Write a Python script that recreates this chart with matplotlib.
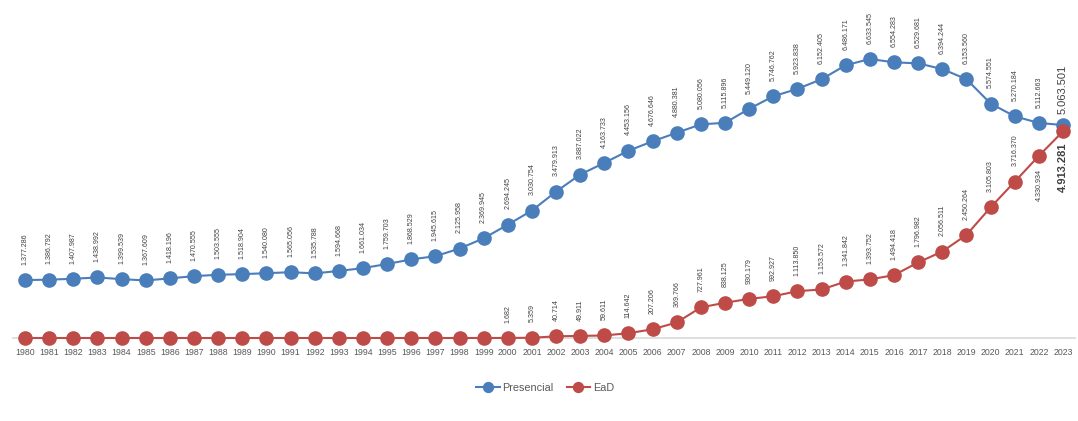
import matplotlib
matplotlib.use("Agg")
import matplotlib.pyplot as plt

plt.rcParams['font.family'] = ['Liberation Sans Narrow', 'Liberation Sans', 'DejaVu Sans']

# dados
anos = list(range(1980, 2024))
presencial = [1377286, 1386792, 1407987, 1438992, 1399539, 1367609, 1418196, 1470555,
              1503555, 1518904, 1540080, 1565056, 1535788, 1594668, 1661034, 1759703,
              1868529, 1945615, 2125958, 2369945, 2694245, 3030754, 3479913, 3887022,
              4163733, 4453156, 4676646, 4880381, 5080056, 5115896, 5449120, 5746762,
              5923838, 6152405, 6486171, 6633545, 6554283, 6529681, 6394244, 6153560,
              5574551, 5270184, 5112663, 5063501]
ead = [0] * 20 + [1682, 5359, 40714, 49911, 59611, 114642, 207206, 369766, 727961,
                  838125, 930179, 992927, 1113850, 1153572, 1341842, 1393752, 1494418,
                  1796982, 2056511, 2450264, 3105803, 3716370, 4330934, 4913281]

azul = '#4a7ebb'
vermelho = '#be4b48'
cor_texto = '#404040'


def fmt(v):
    return f"{v:,}".replace(",", ".")


W, H = 1078, 421
fig = plt.figure(figsize=(W / 100, H / 100), dpi=100)
ax = fig.add_axes([0, (H - 345) / H, 1, 335 / H])

ppm = 42.06  # pixels por milhao
ax.set_ylim(-7 / ppm * 1e6, 328 / ppm * 1e6)
esp = 24.14
ax.set_xlim(1980 - 25 / esp, 2023 + 15 / esp)

ax.plot(anos, presencial, color=azul, lw=1.5, marker='o', ms=9.5,
        mec=azul, label='Presencial', clip_on=False, zorder=3)
ax.plot(anos, ead, color=vermelho, lw=1.5, marker='o', ms=9.5,
        mec=vermelho, label='EaD', clip_on=False, zorder=3)

# rotulos
for a, v in zip(anos, presencial):
    if a == 2023:
        ax.annotate(fmt(v), (a, v), xytext=(0, 8), textcoords='offset points',
                    rotation=90, ha='center', va='bottom', fontsize=8,
                    color=cor_texto)
    else:
        ax.annotate(fmt(v), (a, v), xytext=(0, 11), textcoords='offset points',
                    rotation=90, ha='center', va='bottom', fontsize=5.1,
                    color=cor_texto)

for a, v in zip(anos, ead):
    if v == 0:
        continue
    if a == 2023:
        ax.annotate(fmt(v), (a, v), xytext=(0, -8), textcoords='offset points',
                    rotation=90, ha='center', va='top', fontsize=8,
                    fontweight='bold', color=cor_texto)
    elif a == 2022:
        ax.annotate(fmt(v), (a, v), xytext=(0, -9.5), textcoords='offset points',
                    rotation=90, ha='center', va='top', fontsize=5.1,
                    color=cor_texto)
    else:
        ax.annotate(fmt(v), (a, v), xytext=(0, 11), textcoords='offset points',
                    rotation=90, ha='center', va='bottom', fontsize=5.1,
                    color=cor_texto)

for s in ['top', 'right', 'left']:
    ax.spines[s].set_visible(False)
ax.spines['bottom'].set_position(('data', 0))
ax.spines['bottom'].set_bounds(1979.5, 2023.5)
ax.spines['bottom'].set_color('#d9d9d9')
ax.spines['bottom'].set_linewidth(1.2)
ax.spines['bottom'].set_zorder(1)

ax.set_xticks(anos)
ax.set_xticklabels([str(a) for a in anos])
ax.tick_params(axis='x', length=0, pad=7.5, labelsize=6.3, labelcolor='#595959')
ax.set_yticks([])
ax.patch.set_alpha(0)

fig.legend(loc='center', bbox_to_anchor=(545 / W, 1 - 388 / H), ncol=2,
           frameon=False, fontsize=7.8, handlelength=2.2, handletextpad=0.25,
           columnspacing=1.2, labelcolor='#595959', markerscale=0.75)

fig.savefig('out.png', dpi=100)
